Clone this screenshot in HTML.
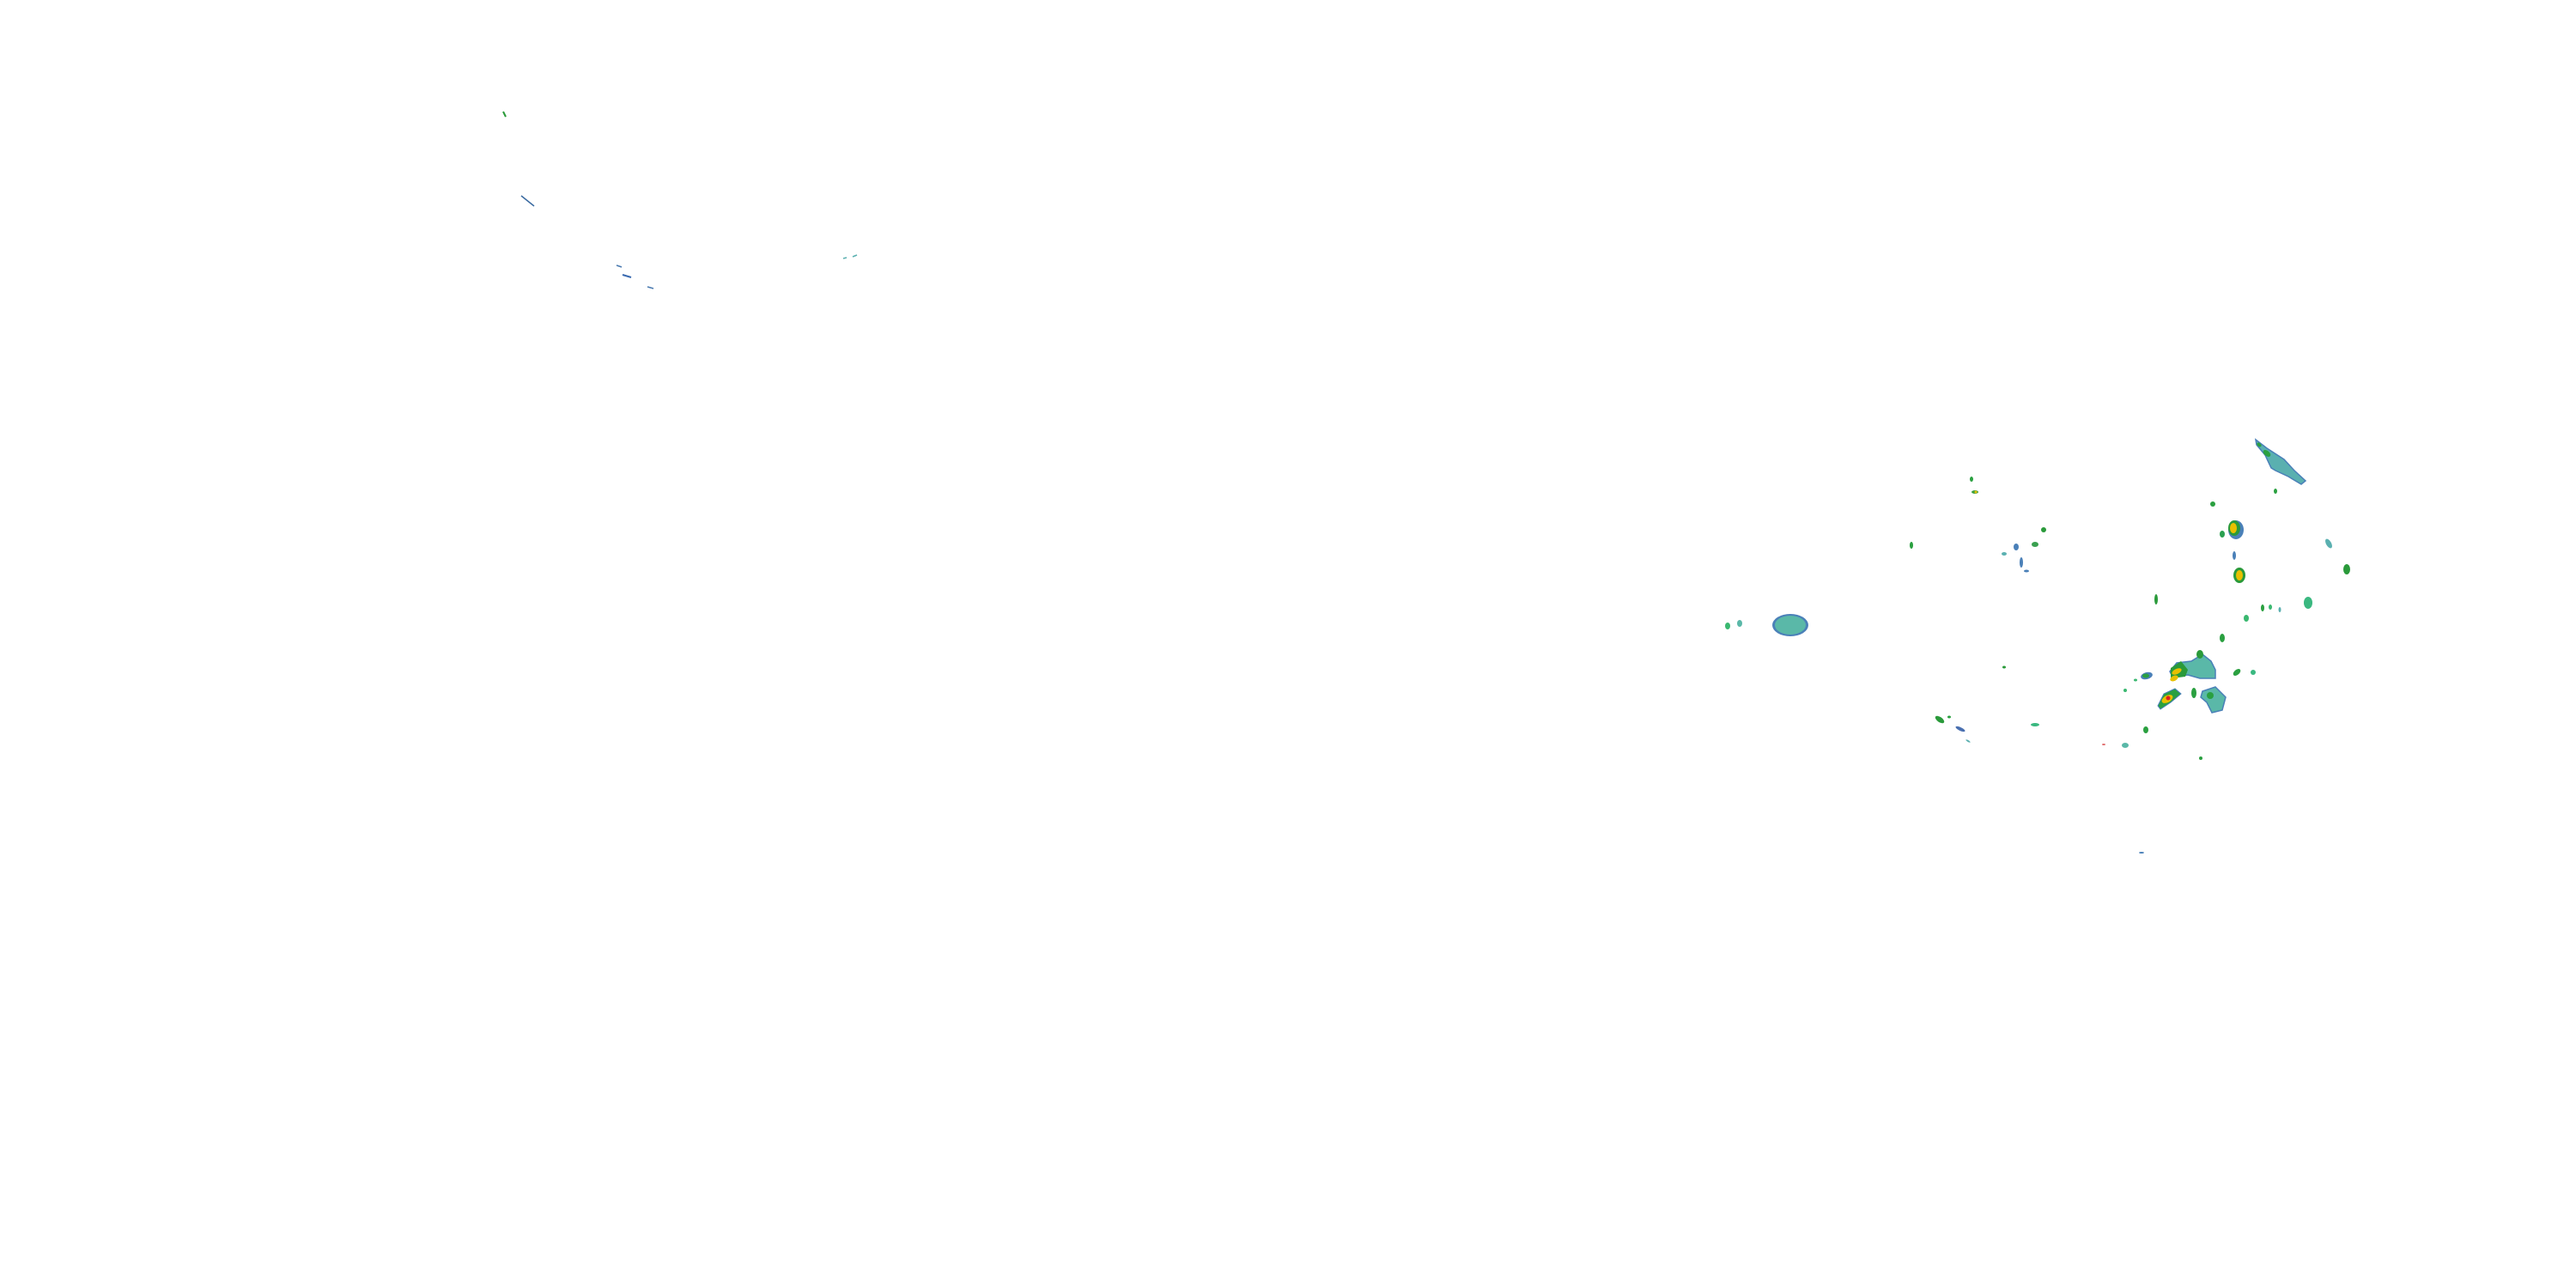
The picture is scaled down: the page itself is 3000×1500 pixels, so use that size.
<!DOCTYPE html>
<html><head><meta charset="utf-8"><style>html,body{margin:0;padding:0;background:#fff}svg{display:block}</style></head>
<body>
<svg width="3000" height="1500" viewBox="0 0 3000 1500" xmlns="http://www.w3.org/2000/svg">
<rect width="3000" height="1500" fill="#fff"/>
<defs>
<g id="c"></g>
</defs>
<!-- top-left specks -->
<line x1="586" y1="130" x2="589" y2="136" stroke="#2a9a3a" stroke-width="2"/>
<line x1="607" y1="228" x2="622" y2="240" stroke="#3a6aa0" stroke-width="1.5"/>
<line x1="718" y1="309" x2="724" y2="311" stroke="#4a7ab0" stroke-width="1.5"/>
<line x1="725" y1="320" x2="735" y2="323" stroke="#3a6ab0" stroke-width="2"/>
<line x1="754" y1="334" x2="761" y2="336" stroke="#4a7ab0" stroke-width="1.5"/>
<line x1="982" y1="301" x2="986" y2="300" stroke="#5ab0b0" stroke-width="1.5"/>
<line x1="993" y1="299" x2="998" y2="297" stroke="#5ab0b0" stroke-width="1.5"/>

<!-- big west blob -->
<ellipse cx="2085" cy="728" rx="21" ry="13" fill="#4a80b8"/>
<ellipse cx="2085" cy="728" rx="18" ry="11" fill="#5ab8a8"/>
<ellipse cx="2012" cy="729" rx="3" ry="4" fill="#3ab870"/>
<ellipse cx="2026" cy="726" rx="3" ry="4" fill="#5ab8a8"/>

<!-- north scattered -->
<ellipse cx="2296" cy="558" rx="2" ry="3" fill="#2aa040"/>
<ellipse cx="2300" cy="573" rx="4" ry="2" fill="#3aa040"/>
<circle cx="2301" cy="573" r="1.5" fill="#e8c000"/>
<ellipse cx="2226" cy="635" rx="2" ry="4" fill="#2aa040"/>
<ellipse cx="2380" cy="617" rx="3" ry="3" fill="#2a9a3a"/>
<ellipse cx="2370" cy="634" rx="4" ry="3" fill="#3aa050"/>
<ellipse cx="2348" cy="637" rx="3" ry="4" fill="#4a80b8"/>
<ellipse cx="2354" cy="655" rx="2" ry="6" fill="#4a80b8"/>
<ellipse cx="2334" cy="645" rx="3" ry="2" fill="#5ab0b0"/>
<ellipse cx="2360" cy="665" rx="3" ry="1.5" fill="#4a80b8"/>
<ellipse cx="2334" cy="777" rx="2" ry="1.5" fill="#2a9a3a"/>

<!-- NE streak -->
<path d="M2627,512 L2640,522 L2660,535 L2672,548 L2685,560 L2680,564 L2665,555 L2650,548 L2645,545 L2638,530 L2628,518 Z" fill="#5ab0b0" stroke="#4a80b8" stroke-width="1.5"/>
<ellipse cx="2640" cy="528" rx="5" ry="3" fill="#2aa040" transform="rotate(40 2640 528)"/>
<ellipse cx="2631" cy="518" rx="3" ry="2" fill="#2aa040" transform="rotate(40 2631 518)"/>
<ellipse cx="2650" cy="572" rx="2" ry="3" fill="#2aa040"/>
<ellipse cx="2577" cy="587" rx="3" ry="3" fill="#2aa040"/>

<!-- yellow cores -->
<ellipse cx="2604" cy="617" rx="9" ry="11" fill="#4a80b8"/>
<ellipse cx="2602" cy="615" rx="7" ry="9" fill="#2a9a3a"/>
<ellipse cx="2601" cy="615" rx="4" ry="6" fill="#e8c000"/>
<ellipse cx="2588" cy="622" rx="3" ry="4" fill="#2aa050"/>
<ellipse cx="2602" cy="647" rx="2" ry="5" fill="#4a80b8"/>
<ellipse cx="2608" cy="670" rx="7" ry="9" fill="#2a9a3a"/>
<ellipse cx="2608" cy="670" rx="4" ry="6" fill="#e8c000"/>
<ellipse cx="2712" cy="633" rx="3" ry="6" fill="#5ab0b0" transform="rotate(-30 2712 633)"/>
<ellipse cx="2733" cy="663" rx="4" ry="6" fill="#2a9a3a"/>
<ellipse cx="2511" cy="698" rx="2" ry="6" fill="#2a9a3a"/>
<ellipse cx="2688" cy="702" rx="5" ry="7" fill="#3ab880"/>
<ellipse cx="2616" cy="720" rx="3" ry="4" fill="#3ab870"/>
<ellipse cx="2644" cy="707" rx="2" ry="3" fill="#3ab870"/>
<ellipse cx="2635" cy="708" rx="2" ry="4" fill="#2aa040"/>
<ellipse cx="2655" cy="710" rx="1.5" ry="3" fill="#5ab0b0"/>
<ellipse cx="2588" cy="743" rx="3" ry="5" fill="#2aa040"/>

<!-- SE cluster -->
<path d="M2552,770 L2565,762 L2575,770 L2580,780 L2580,790 L2562,790 L2548,786 L2530,788 L2527,782 L2535,772 Z" fill="#5ab8a8" stroke="#4a80b8" stroke-width="1.5"/>
<path d="M2528,778 L2540,770 L2548,780 L2545,788 L2528,790 Z" fill="#2a9a3a"/>
<ellipse cx="2535" cy="782" rx="6" ry="3" fill="#e8c000" transform="rotate(-25 2535 782)"/>
<ellipse cx="2532" cy="790" rx="5" ry="3" fill="#e8c000" transform="rotate(-25 2532 790)"/>
<ellipse cx="2562" cy="762" rx="4" ry="5" fill="#2a9a3a"/>
<ellipse cx="2500" cy="787" rx="7" ry="4" fill="#4a80b8" transform="rotate(-15 2500 787)"/>
<ellipse cx="2499" cy="787" rx="4" ry="2.5" fill="#2aa040"/>
<path d="M2513,822 L2520,808 L2533,802 L2540,808 L2528,818 L2516,826 Z" fill="#2aa040" stroke="#4a80b8" stroke-width="1"/>
<ellipse cx="2524" cy="814" rx="7" ry="4" fill="#e8c000" transform="rotate(-30 2524 814)"/>
<circle cx="2525" cy="813" r="2.5" fill="#e02020"/>
<ellipse cx="2555" cy="807" rx="3" ry="6" fill="#2aa040"/>
<path d="M2565,805 L2580,800 L2592,812 L2588,827 L2576,830 L2570,818 L2563,812 Z" fill="#5ab8a8" stroke="#4a80b8" stroke-width="1.5"/>
<ellipse cx="2574" cy="810" rx="4" ry="4" fill="#2aa040"/>
<ellipse cx="2605" cy="783" rx="5" ry="3" fill="#2aa040" transform="rotate(-40 2605 783)"/>
<ellipse cx="2624" cy="783" rx="3" ry="3" fill="#3ab880"/>
<ellipse cx="2475" cy="804" rx="2" ry="2" fill="#3ab870"/>
<ellipse cx="2487" cy="792" rx="2" ry="1.5" fill="#3ab870"/>

<!-- south -->
<ellipse cx="2259" cy="838" rx="6" ry="3" fill="#2a9a3a" transform="rotate(35 2259 838)"/>
<ellipse cx="2283" cy="849" rx="6" ry="2" fill="#4a70b0" transform="rotate(25 2283 849)"/>
<ellipse cx="2270" cy="835" rx="2" ry="1.5" fill="#2aa040"/>
<ellipse cx="2292" cy="863" rx="3" ry="1" fill="#5ab0b0" transform="rotate(30 2292 863)"/>
<ellipse cx="2370" cy="844" rx="5" ry="2" fill="#3ab880"/>
<ellipse cx="2499" cy="850" rx="3" ry="4" fill="#2aa040"/>
<ellipse cx="2475" cy="868" rx="4" ry="3" fill="#5ab8a8"/>
<ellipse cx="2563" cy="883" rx="2" ry="2" fill="#2aa040"/>
<ellipse cx="2450" cy="867" rx="2" ry="1" fill="#e07070"/>
<ellipse cx="2494" cy="993" rx="3" ry="1" fill="#4a80b8"/>
</svg>
</body></html>
